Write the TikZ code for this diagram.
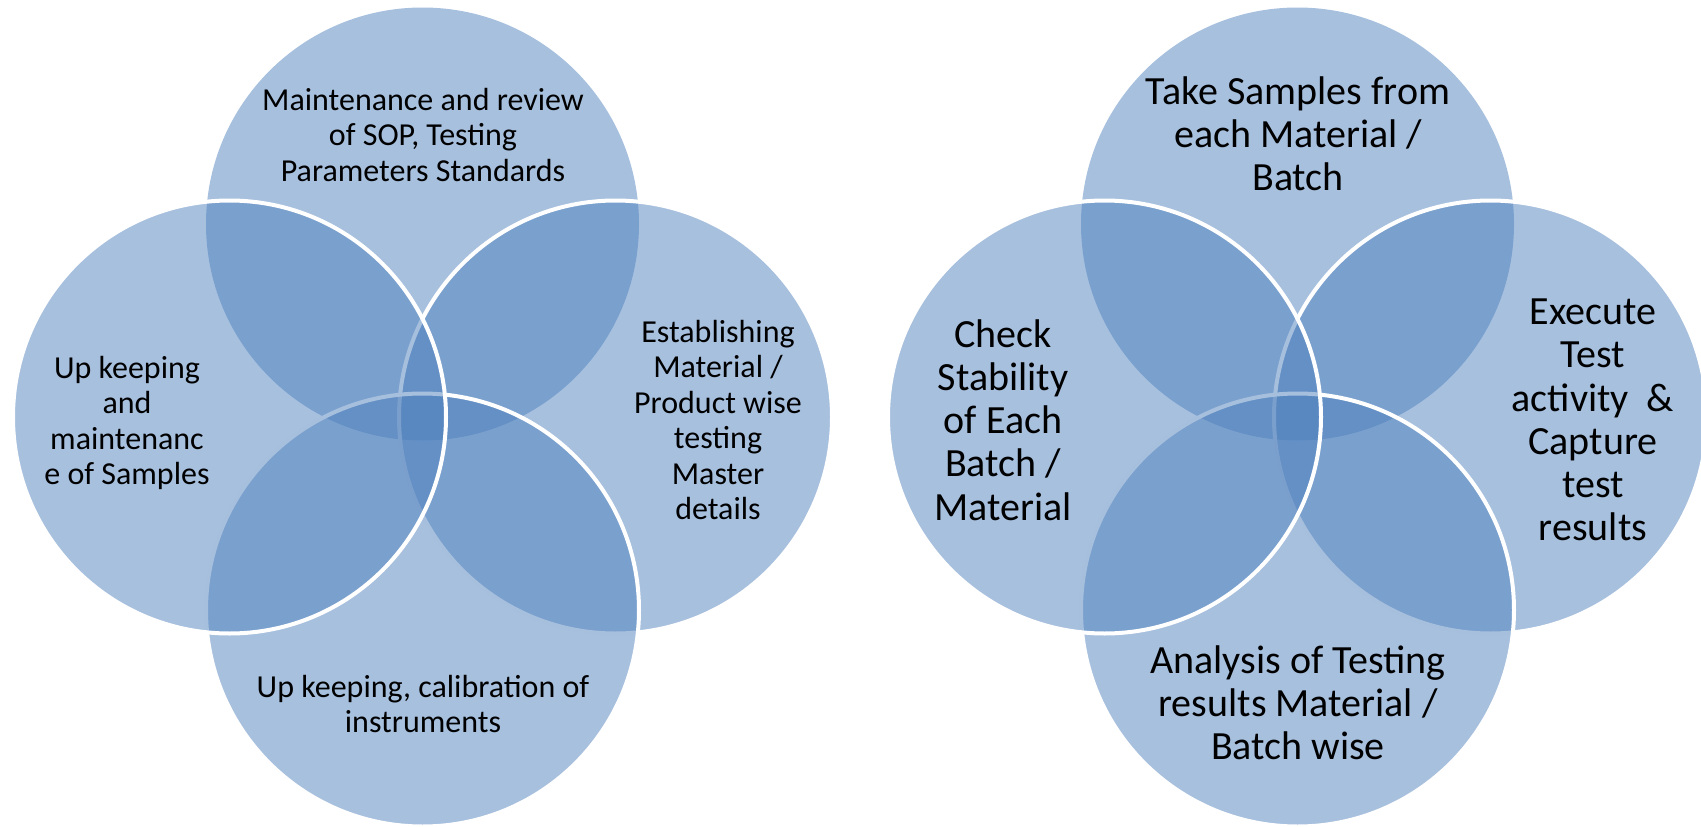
\documentclass[tikz,border=0pt]{standalone}
\usepackage{fontspec}
\setmainfont{Carlito}
\definecolor{vennblue}{RGB}{79,129,189}
\begin{document}
\begin{tikzpicture}[x=1pt,y=-1pt,
  venn/.style={circle, minimum size=433pt, inner sep=0pt, outer sep=0pt, fill=vennblue, fill opacity=0.5},
  vennline/.style={venn, draw=white, line width=4pt},
  smalltxt/.style={align=center, font=\fontsize{32}{35.5}\selectfont, text=black, inner sep=0pt},
  bigtxt/.style={align=center, font=\fontsize{40}{43.2}\selectfont, text=black, inner sep=0pt}]
\useasboundingbox (0,0) rectangle (1701,827);
% left diagram
\node[venn] (at1) at (422.5,224) {};
\node[vennline] (ar1) at (615.5,417) {};
\node[vennline] (ab1) at (422.5,610) {};
\node[vennline] (al1) at (229.5,417) {};
% right diagram
\node[venn] (bt1) at (1297.5,224) {};
\node[vennline] (br1) at (1490.5,417) {};
\node[vennline] (bb1) at (1297.5,610) {};
\node[vennline] (bl1) at (1104.5,417) {};
% texts left
\node[smalltxt] (ta) at (423,135) {Maintenance and review\\of SOP, Testing\\Parameters Standards};
\node[smalltxt] (tb) at (127,423) {Up keeping\\and\\maintenanc\\e of Samples};
\node[smalltxt] (tc) at (718,420) {Establishing\\Material /\\Product wise\\testing\\Master\\details};
\node[smalltxt] (td) at (423,704) {Up keeping, calibration of\\instruments};
% texts right
\node[bigtxt] (te) at (1298,134) {Take Samples from\\each Material /\\Batch};
\node[bigtxt] (tf) at (1003,420) {Check\\Stability\\of Each\\Batch /\\Material};
\node[bigtxt] (tg) at (1593,420) {Execute\\Test\\activity~ \&\\Capture\\test\\results};
\node[bigtxt] (th) at (1298,703) {Analysis of Testing\\results Material /\\Batch wise};
\end{tikzpicture}
\end{document}
